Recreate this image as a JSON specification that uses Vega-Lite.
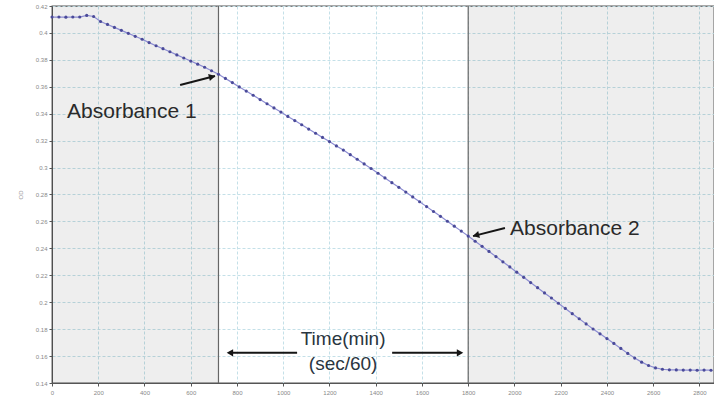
{
  "$schema": "https://vega.github.io/schema/vega-lite/v6.json",
  "width": 662,
  "height": 377,
  "autosize": "none",
  "padding": {"left": 52, "top": 6, "right": 0, "bottom": 18},
  "background": "white",
  "config": {
    "font": "Liberation Sans",
    "view": {"stroke": "#555", "strokeWidth": 1.3},
    "axis": {
      "gridColor": "#c4e0e8",
      "gridDash": [3, 2],
      "gridWidth": 1,
      "domainColor": "#555",
      "tickColor": "#555",
      "tickSize": 3,
      "labelFontSize": 6,
      "labelColor": "#888",
      "labelOverlap": false,
      "labelFlush": false,
      "titleFontSize": 6,
      "titleColor": "#999",
      "titleFontWeight": "normal"
    }
  },
  "datasets": {
    "curve": [
      {"t": 0, "od": 0.4118}, {"t": 30, "od": 0.4118}, {"t": 60, "od": 0.4117}, {"t": 90, "od": 0.4118},
      {"t": 120, "od": 0.4118}, {"t": 150, "od": 0.4130}, {"t": 180, "od": 0.4122}, {"t": 210, "od": 0.4085},
      {"t": 240, "od": 0.4063}, {"t": 270, "od": 0.4041}, {"t": 300, "od": 0.4019}, {"t": 330, "od": 0.3997},
      {"t": 360, "od": 0.3975}, {"t": 390, "od": 0.3953}, {"t": 420, "od": 0.3928}, {"t": 450, "od": 0.3905},
      {"t": 480, "od": 0.3883}, {"t": 510, "od": 0.3860}, {"t": 540, "od": 0.3837}, {"t": 570, "od": 0.3814},
      {"t": 600, "od": 0.3791}, {"t": 630, "od": 0.3768}, {"t": 660, "od": 0.3745}, {"t": 690, "od": 0.3719},
      {"t": 720, "od": 0.3693}, {"t": 750, "od": 0.3662}, {"t": 780, "od": 0.3631}, {"t": 810, "od": 0.3599},
      {"t": 840, "od": 0.3568}, {"t": 870, "od": 0.3537}, {"t": 900, "od": 0.3505}, {"t": 930, "od": 0.3474},
      {"t": 960, "od": 0.3443}, {"t": 990, "od": 0.3412}, {"t": 1020, "od": 0.3380}, {"t": 1050, "od": 0.3349},
      {"t": 1080, "od": 0.3318}, {"t": 1110, "od": 0.3286}, {"t": 1140, "od": 0.3255}, {"t": 1170, "od": 0.3224},
      {"t": 1200, "od": 0.3193}, {"t": 1230, "od": 0.3161}, {"t": 1260, "od": 0.3130}, {"t": 1290, "od": 0.3096},
      {"t": 1320, "od": 0.3062}, {"t": 1350, "od": 0.3027}, {"t": 1380, "od": 0.2993}, {"t": 1410, "od": 0.2958},
      {"t": 1440, "od": 0.2923}, {"t": 1470, "od": 0.2888}, {"t": 1500, "od": 0.2853}, {"t": 1530, "od": 0.2818},
      {"t": 1560, "od": 0.2782}, {"t": 1590, "od": 0.2746}, {"t": 1620, "od": 0.2710}, {"t": 1650, "od": 0.2674},
      {"t": 1680, "od": 0.2638}, {"t": 1710, "od": 0.2601}, {"t": 1740, "od": 0.2565}, {"t": 1770, "od": 0.2528},
      {"t": 1800, "od": 0.2491}, {"t": 1830, "od": 0.2453}, {"t": 1860, "od": 0.2415}, {"t": 1890, "od": 0.2377},
      {"t": 1920, "od": 0.2339}, {"t": 1950, "od": 0.2300}, {"t": 1980, "od": 0.2262}, {"t": 2010, "od": 0.2223},
      {"t": 2040, "od": 0.2185}, {"t": 2070, "od": 0.2146}, {"t": 2100, "od": 0.2108}, {"t": 2130, "od": 0.2069},
      {"t": 2160, "od": 0.2031}, {"t": 2190, "od": 0.1992}, {"t": 2220, "od": 0.1954}, {"t": 2250, "od": 0.1915},
      {"t": 2280, "od": 0.1877}, {"t": 2310, "od": 0.1839}, {"t": 2340, "od": 0.1801}, {"t": 2370, "od": 0.1765},
      {"t": 2400, "od": 0.1730}, {"t": 2430, "od": 0.1694}, {"t": 2460, "od": 0.1657}, {"t": 2490, "od": 0.1620},
      {"t": 2520, "od": 0.1585}, {"t": 2550, "od": 0.1555}, {"t": 2580, "od": 0.1530}, {"t": 2610, "od": 0.1512},
      {"t": 2640, "od": 0.1502}, {"t": 2670, "od": 0.1498}, {"t": 2700, "od": 0.1497}, {"t": 2730, "od": 0.1496},
      {"t": 2760, "od": 0.1496}, {"t": 2790, "od": 0.1495}, {"t": 2820, "od": 0.1496}, {"t": 2850, "od": 0.1495}
    ],
    "bands": [{"start": 0, "end": 720}, {"start": 1800, "end": 2863}],
    "markers": [{"t": 720}, {"t": 1800}],
    "arrows": [
      {"id": "a1", "x": 554, "y": 0.3613, "xEnd": 705, "yEnd": 0.3680, "hx": 688, "hy": 0.3673},
      {"id": "a2", "x": 1959, "y": 0.2551, "xEnd": 1821, "yEnd": 0.2491, "hx": 1838, "hy": 0.2499},
      {"id": "left", "x": 1060, "y": 0.1624, "xEnd": 770, "yEnd": 0.1624, "hx": 774, "hy": 0.1624},
      {"id": "right", "x": 1471, "y": 0.1624, "xEnd": 1765, "yEnd": 0.1624, "hx": 1760, "hy": 0.1624}
    ],
    "labels": [
      {"group": "abs", "text": "Absorbance 1", "t": 65, "od": 0.3412},
      {"group": "abs", "text": "Absorbance 2", "t": 1981, "od": 0.2543},
      {"group": "time", "text": "Time(min)", "t": 1259, "od": 0.1726},
      {"group": "time", "text": "(sec/60)", "t": 1259, "od": 0.1540}
    ]
  },
  "layer": [
    {
      "data": {"name": "bands"},
      "mark": {"type": "rect", "color": "#000", "opacity": 0.065},
      "encoding": {
        "x": {"field": "start", "type": "quantitative", "title": null,
              "scale": {"domain": [0, 2863], "nice": false, "zero": false},
              "axis": {"values": [0, 200, 400, 600, 800, 1000, 1200, 1400, 1600, 1800, 2000, 2200, 2400, 2600, 2800], "tickCount": 30, "format": "d", "labelPadding": 3}},
        "x2": {"field": "end"}
      }
    },
    {
      "data": {"name": "markers"},
      "mark": {"type": "rule", "color": "#666", "strokeWidth": 1.2},
      "encoding": {
        "x": {"field": "t", "type": "quantitative", "title": null, "scale": {"domain": [0, 2863], "nice": false, "zero": false}}
      }
    },
    {
      "data": {"name": "curve"},
      "mark": {"type": "line", "color": "#8c8cd2", "strokeWidth": 1.2,
               "point": {"filled": true, "size": 10, "color": "#4a4a99"}},
      "encoding": {
        "x": {"field": "t", "type": "quantitative", "title": null, "scale": {"domain": [0, 2863], "nice": false, "zero": false}},
        "y": {"field": "od", "type": "quantitative", "title": "OD",
              "scale": {"domain": [0.14, 0.42], "nice": false, "zero": false},
              "axis": {"values": [0.14, 0.16, 0.18, 0.2, 0.22, 0.24, 0.26, 0.28, 0.3, 0.32, 0.34, 0.36, 0.38, 0.4, 0.42], "tickCount": 30, "format": "~g", "labelPadding": 2, "titlePadding": 12}}
      }
    },
    {
      "data": {"name": "arrows"},
      "mark": {"type": "rule", "color": "#151515", "strokeWidth": 2},
      "encoding": {
        "x": {"field": "x", "type": "quantitative", "title": null, "scale": {"domain": [0, 2863], "nice": false, "zero": false}},
        "y": {"field": "y", "type": "quantitative", "title": "OD", "scale": {"domain": [0.14, 0.42], "nice": false, "zero": false}},
        "x2": {"field": "xEnd"},
        "y2": {"field": "yEnd"}
      }
    },
    {
      "data": {"name": "arrows"},
      "transform": [{"filter": "datum.id === 'a1'"}],
      "mark": {"type": "point", "shape": "triangle", "angle": 76, "filled": true, "color": "#151515", "opacity": 1, "size": 55},
      "encoding": {
        "x": {"field": "hx", "type": "quantitative", "title": null, "scale": {"domain": [0, 2863], "nice": false, "zero": false}},
        "y": {"field": "hy", "type": "quantitative", "title": "OD", "scale": {"domain": [0.14, 0.42], "nice": false, "zero": false}}
      }
    },
    {
      "data": {"name": "arrows"},
      "transform": [{"filter": "datum.id === 'a2'"}],
      "mark": {"type": "point", "shape": "triangle", "angle": 256, "filled": true, "color": "#151515", "opacity": 1, "size": 55},
      "encoding": {
        "x": {"field": "hx", "type": "quantitative", "title": null, "scale": {"domain": [0, 2863], "nice": false, "zero": false}},
        "y": {"field": "hy", "type": "quantitative", "title": "OD", "scale": {"domain": [0.14, 0.42], "nice": false, "zero": false}}
      }
    },
    {
      "data": {"name": "arrows"},
      "transform": [{"filter": "datum.id === 'left'"}],
      "mark": {"type": "point", "shape": "triangle", "angle": 270, "filled": true, "color": "#151515", "opacity": 1, "size": 55},
      "encoding": {
        "x": {"field": "hx", "type": "quantitative", "title": null, "scale": {"domain": [0, 2863], "nice": false, "zero": false}},
        "y": {"field": "hy", "type": "quantitative", "title": "OD", "scale": {"domain": [0.14, 0.42], "nice": false, "zero": false}}
      }
    },
    {
      "data": {"name": "arrows"},
      "transform": [{"filter": "datum.id === 'right'"}],
      "mark": {"type": "point", "shape": "triangle", "angle": 90, "filled": true, "color": "#151515", "opacity": 1, "size": 55},
      "encoding": {
        "x": {"field": "hx", "type": "quantitative", "title": null, "scale": {"domain": [0, 2863], "nice": false, "zero": false}},
        "y": {"field": "hy", "type": "quantitative", "title": "OD", "scale": {"domain": [0.14, 0.42], "nice": false, "zero": false}}
      }
    },
    {
      "data": {"name": "labels"},
      "transform": [{"filter": "datum.group === 'abs'"}],
      "mark": {"type": "text", "align": "left", "baseline": "middle", "fontSize": 21, "color": "#2a2a2a"},
      "encoding": {
        "x": {"field": "t", "type": "quantitative", "title": null, "scale": {"domain": [0, 2863], "nice": false, "zero": false}},
        "y": {"field": "od", "type": "quantitative", "title": "OD", "scale": {"domain": [0.14, 0.42], "nice": false, "zero": false}},
        "text": {"field": "text"}
      }
    },
    {
      "data": {"name": "labels"},
      "transform": [{"filter": "datum.group === 'time'"}],
      "mark": {"type": "text", "align": "center", "baseline": "middle", "fontSize": 19, "color": "#2a3540"},
      "encoding": {
        "x": {"field": "t", "type": "quantitative", "title": null, "scale": {"domain": [0, 2863], "nice": false, "zero": false}},
        "y": {"field": "od", "type": "quantitative", "title": "OD", "scale": {"domain": [0.14, 0.42], "nice": false, "zero": false}},
        "text": {"field": "text"}
      }
    }
  ]
}
